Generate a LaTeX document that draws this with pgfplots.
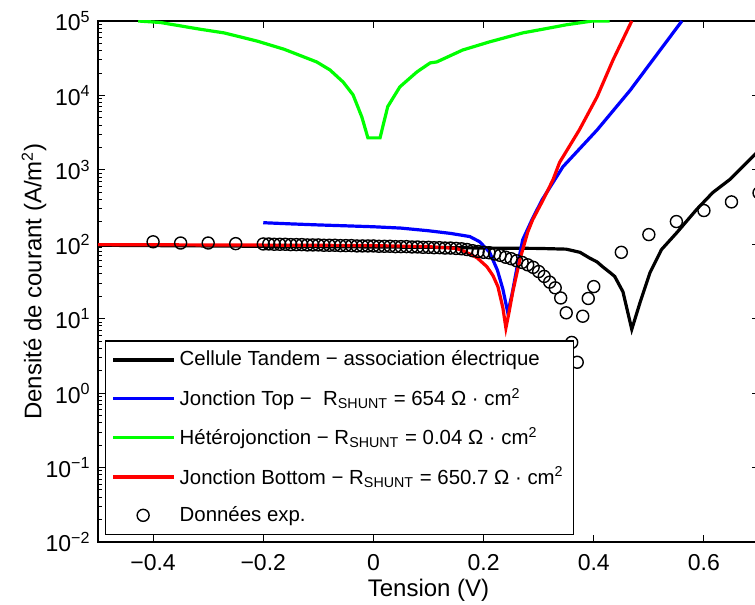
\documentclass[border=0pt]{standalone}
\usepackage{pgfplots}
\pgfplotsset{compat=1.18}
\usepackage{fontspec}
\setmainfont{Liberation Sans}
\begin{document}
\fontsize{10.5}{12.6}\selectfont
\begin{tikzpicture}
\begin{axis}[
  width=330.5pt, height=260.5pt, scale only axis,
  xmin=-0.5, xmax=0.7, ymode=log, ymin=1e-2, ymax=1e5,
  xtick={-0.4,-0.2,0,0.2,0.4,0.6},
  xticklabels={−0.4,−0.2,0,0.2,0.4,0.6},
  ytick={1e-2,1e-1,1,10,100,1000,10000,100000},
  yticklabels={10\textsuperscript{−2},10\textsuperscript{−1},10\textsuperscript{0},10\textsuperscript{1},10\textsuperscript{2},10\textsuperscript{3},10\textsuperscript{4},10\textsuperscript{5}},
  tick align=inside, major tick length=3.5pt, minor tick length=2pt,
  axis line style={line width=0.6pt, black},
  every tick/.style={black, line width=0.5pt},
  x tick label style={font=\fontsize{11.5}{13.8}\selectfont, yshift=-2.5pt},
  y tick label style={font=\fontsize{11.5}{13.8}\selectfont, xshift=0pt},
  xlabel={Tension (V)},
  ylabel={Densité de courant (A/m\textsuperscript{2})},
  every axis y label/.style={at={(axis description cs:-0.0968,0.5)}, rotate=90, anchor=center, font=\fontsize{12}{14.4}\selectfont},
  every axis x label/.style={at={(axis description cs:0.5,-0.092)}, anchor=center, font=\fontsize{12}{14.4}\selectfont},
  legend cell align=left,
  legend image code/.code={\draw[mark repeat=2,mark phase=2,#1] plot coordinates {(0pt,0pt) (15pt,0pt) (30.5pt,0pt)};},
  legend style={at={(rel axis cs:0.0105,0.0134)}, anchor=south west, draw=black, line width=0.6pt, inner xsep=3pt, inner ysep=3pt, row sep=5.5pt, font=\fontsize{10.2}{12.2}\selectfont},
]
\coordinate (O) at (rel axis cs:0,0);
% Cellule tandem
\addplot[black, line width=1.6pt] coordinates {
(-0.5,97) (-0.3,95) (-0.1,93) (0.1,91) (0.2,89) (0.3,88) (0.35,86) (0.375,78) (0.393,65) (0.406,58) (0.416,50) (0.429,42) (0.438,37) (0.453,23) (0.469,7.2) (0.484,16.5) (0.502,41.5) (0.523,85) (0.551,144) (0.587,295) (0.616,495) (0.647,742) (0.692,1590) (0.70,1850)
};
\addlegendentry{Cellule Tandem − association électrique}
% Jonction Top
\addplot[blue, line width=1.6pt] coordinates {
(-0.2,195) (-0.15,188) (-0.1,182) (-0.05,177) (0,172) (0.05,165) (0.1,152) (0.14,140) (0.175,127) (0.193,108) (0.211,78) (0.225,45) (0.235,25) (0.244,12) (0.252,22) (0.26,46) (0.271,115) (0.288,215) (0.306,394) (0.344,1100) (0.406,3430) (0.466,11700) (0.525,45000) (0.56,100000)
};
\addlegendentry{Jonction Top −\ \ R\textsubscript{SHUNT} = 654 Ω · cm\textsuperscript{2}}
% Heterojonction
\addplot[green, line width=1.6pt] coordinates {
(-0.427,100000) (-0.387,95500) (-0.315,77620) (-0.271,69180) (-0.211,53700) (-0.162,41690) (-0.103,28180) (-0.079,22030) (-0.055,15140) (-0.037,10190) (-0.021,5130) (-0.01,2690) (0.012,2690) (0.026,7080) (0.048,13030) (0.079,20700) (0.103,27350) (0.115,28180) (0.162,40740) (0.211,52480) (0.271,69180) (0.315,79430) (0.351,89130) (0.398,100000) (0.429,100000)
};
\addlegendentry{Hétérojonction − R\textsubscript{SHUNT} = 0.04 Ω · cm\textsuperscript{2}}
% Jonction Bottom
\addplot[red, line width=1.6pt] coordinates {
(-0.5,99) (-0.3,98) (-0.1,97) (0,96) (0.1,93) (0.15,88) (0.162,82) (0.175,74) (0.188,66) (0.206,50) (0.217,38) (0.226,27) (0.235,14) (0.2405,7.5) (0.246,12) (0.253,23) (0.266,63) (0.280,145) (0.289,213) (0.308,394) (0.326,737) (0.338,1260) (0.374,3460) (0.406,9570) (0.435,30000) (0.469,100000)
};
\addlegendentry{Jonction Bottom − R\textsubscript{SHUNT} = 650.7 Ω · cm\textsuperscript{2}}
% Donnees exp
\addplot[only marks, mark=o, mark size=3pt, mark options={black, line width=0.7pt}] coordinates {
(-0.4,108) (-0.35,104) (-0.3,104) (-0.25,102)
(-0.20,101) (-0.19,101) (-0.18,100) (-0.17,100) (-0.16,100) (-0.15,99) (-0.14,99) (-0.13,99) (-0.12,98) (-0.11,98)
(-0.10,98) (-0.09,97) (-0.08,97) (-0.07,97) (-0.06,96) (-0.05,96) (-0.04,96) (-0.03,95) (-0.02,95) (-0.01,95)
(0.00,95) (0.01,94) (0.02,94) (0.03,94) (0.04,93) (0.05,93) (0.06,93) (0.07,92) (0.08,92) (0.09,91)
(0.10,91) (0.11,90) (0.12,90) (0.13,89) (0.14,89) (0.15,88) (0.16,87) (0.17,85) (0.18,82) (0.19,80)
(0.20,78) (0.21,77) (0.22,74) (0.23,71) (0.24,67) (0.25,64) (0.26,60) (0.27,57) (0.28,53) (0.29,49)
(0.30,43) (0.31,37) (0.32,31) (0.33,26) (0.34,19) (0.35,12) (0.36,4.8) (0.37,2.6) (0.38,10.8) (0.39,18.7)
(0.40,27) (0.45,78) (0.50,135) (0.55,202) (0.60,284) (0.65,371) (0.70,490)
};
\addlegendentry{Données exp.}
\end{axis}
\pgfresetboundingbox
\path[use as bounding box] (O) ++(-49pt,-31.5pt) rectangle ++(377.5pt,302.5pt);
\end{tikzpicture}
\end{document}
